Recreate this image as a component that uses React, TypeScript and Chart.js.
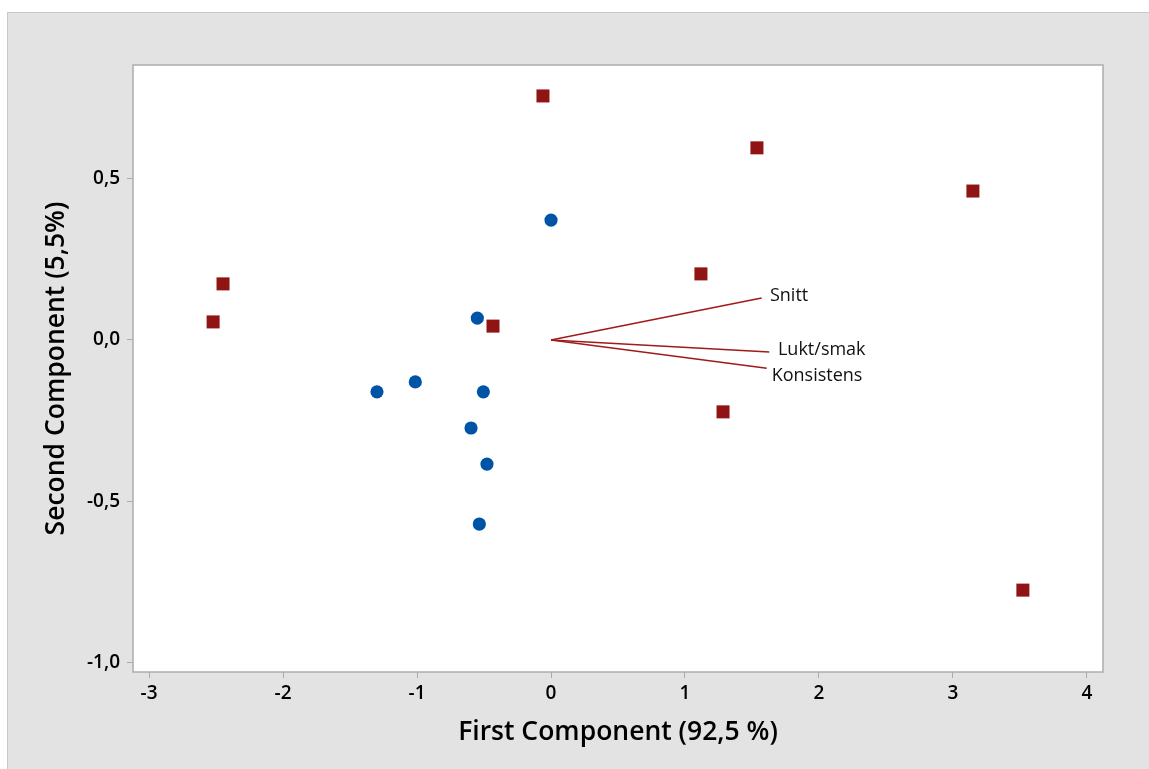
import React, { useEffect, useRef } from "react";
import { Chart, registerables } from "chart.js";

Chart.register(...registerables);

// Score plot: group with squares (red)
const redX = [-0.06, 1.537, 3.149, -2.448, -2.522, -0.433, 1.119, 1.284, 3.522];
const redY = [0.757, 0.596, 0.462, 0.174, 0.056, 0.043, 0.205, -0.223, -0.776];

// Score plot: group with circles (blue)
const blueX = [0.0, -0.55, -1.013, -1.299, -0.505, -0.597, -0.478, -0.535];
const blueY = [0.372, 0.068, -0.13, -0.161, -0.161, -0.273, -0.385, -0.571];

// Loading vectors (from origin)
const loadingNames = ["Snitt", "Lukt/smak", "Konsistens"];
const loadingX = [1.572, 1.629, 1.61];
const loadingY = [0.13, -0.037, -0.088];
const loadingLabelX = [1.634, 1.694, 1.647];
const loadingLabelY = [0.1375, -0.031, -0.112];

// Axes
const xTicks = [-3, -2, -1, 0, 1, 2, 3, 4];
const xTickLabels = ["-3", "-2", "-1", "0", "1", "2", "3", "4"];
const yTicks = [-1, -0.5, 0, 0.5];
const yTickLabels = ["-1,0", "-0,5", "0,0", "0,5"];
const xRange = [-3.12, 4.12];
const yRange = [-1.03, 0.853];
const xTitle = "First Component (92,5 %)";
const yTitle = "Second Component (5,5%)";

const FONT = "'Open Sans', 'Noto Sans', sans-serif";
const RED = "#901414";
const BLUE = "#0054a6";
const LINE_RED = "#a01a1a";

export default function App() {
  const ref = useRef<HTMLCanvasElement | null>(null);

  useEffect(() => {
    const canvas = ref.current;
    if (!canvas) return;

    const plotBg = {
      id: "plotBg",
      beforeDraw(chart: any) {
        const { ctx, chartArea: a } = chart;
        ctx.save();
        ctx.fillStyle = "#ffffff";
        ctx.fillRect(a.left, a.top, a.right - a.left, a.bottom - a.top);
        ctx.restore();
      },
      afterDraw(chart: any) {
        const { ctx, chartArea: a } = chart;
        ctx.save();
        ctx.strokeStyle = "#adadad";
        ctx.lineWidth = 1.5;
        ctx.strokeRect(a.left, a.top, a.right - a.left, a.bottom - a.top);
        ctx.restore();
      },
    };

    const loadingLabels = {
      id: "loadingLabels",
      afterDatasetsDraw(chart: any) {
        const { ctx } = chart;
        const xs = chart.scales.x;
        const ys = chart.scales.y;
        ctx.save();
        ctx.font = `400 18px ${FONT}`;
        ctx.fillStyle = "#111111";
        ctx.textAlign = "left";
        ctx.textBaseline = "middle";
        loadingNames.forEach((n, i) => {
          ctx.fillText(n, xs.getPixelForValue(loadingLabelX[i]), ys.getPixelForValue(loadingLabelY[i]));
        });
        ctx.restore();
      },
    };

    const lineSets = loadingNames.map((n, i) => ({
      label: n,
      data: [
        { x: 0, y: 0 },
        { x: loadingX[i], y: loadingY[i] },
      ],
      showLine: true,
      borderColor: LINE_RED,
      borderWidth: 1.5,
      pointRadius: 0,
      fill: false,
    }));

    const chart = new Chart(canvas, {
      type: "scatter",
      data: {
        datasets: [
          ...lineSets,
          {
            label: "Red",
            data: redX.map((x, i) => ({ x, y: redY[i] })),
            pointStyle: "rect",
            pointRadius: 9.2,
            pointBorderWidth: 0,
            borderWidth: 0,
            backgroundColor: RED,
            borderColor: RED,
          },
          {
            label: "Blue",
            data: blueX.map((x, i) => ({ x, y: blueY[i] })),
            pointStyle: "circle",
            pointRadius: 6.6,
            pointBorderWidth: 0,
            borderWidth: 0,
            backgroundColor: BLUE,
            borderColor: BLUE,
          },
        ] as any,
      },
      options: {
        animation: false,
        responsive: false,
        events: [],
        layout: { padding: { left: 0, top: 52, right: 46, bottom: 0 } },
        plugins: { legend: { display: false }, tooltip: { enabled: false } },
        scales: {
          x: {
            type: "linear",
            min: xRange[0],
            max: xRange[1],
            afterBuildTicks: (s: any) => {
              s.ticks = xTicks.map((v) => ({ value: v }));
            },
            afterFit: (s: any) => {
              s.height = 97;
            },
            ticks: {
              autoSkip: false,
              maxRotation: 0,
              padding: 4,
              color: "#000",
              font: { family: FONT, size: 19, weight: "600" },
              callback: (v: any) => {
                const i = xTicks.indexOf(Number(v));
                return i >= 0 ? xTickLabels[i] : "";
              },
            },
            grid: { display: true, drawOnChartArea: false, drawTicks: true, tickLength: 6, color: "#aaaaaa" },
            border: { display: false },
            title: {
              display: true,
              text: xTitle,
              color: "#000",
              font: { family: FONT, size: 26.5, weight: "600" },
              padding: { top: 0, bottom: 21 },
            },
          },
          y: {
            type: "linear",
            min: yRange[0],
            max: yRange[1],
            afterBuildTicks: (s: any) => {
              s.ticks = yTicks.map((v) => ({ value: v }));
            },
            afterFit: (s: any) => {
              s.width = 125;
            },
            ticks: {
              autoSkip: false,
              padding: 7,
              color: "#000",
              font: { family: FONT, size: 19, weight: "600" },
              callback: (v: any) => {
                const i = yTicks.indexOf(Number(v));
                return i >= 0 ? yTickLabels[i] : "";
              },
            },
            grid: { display: true, drawOnChartArea: false, drawTicks: true, tickLength: 6, color: "#aaaaaa" },
            border: { display: false },
            title: {
              display: true,
              text: yTitle,
              color: "#000",
              font: { family: FONT, size: 26.5, weight: "600" },
              padding: { top: 33, bottom: 0 },
            },
          },
        },
      },
      plugins: [plotBg, loadingLabels],
    } as any);

    return () => chart.destroy();
  }, []);

  return (
    <div
      style={{
        position: "absolute",
        left: 0,
        top: 0,
        width: 1149,
        height: 769,
        background: "#ffffff",
        overflow: "hidden",
      }}
    >
      <div
        style={{
          position: "absolute",
          left: 7,
          top: 12,
          width: 1142,
          height: 757,
          boxSizing: "border-box",
          background: "#e3e3e3",
          borderLeft: "1px solid #c8c8c8",
          borderTop: "1px solid #c8c8c8",
        }}
      />
      <canvas
        ref={ref}
        width={1141}
        height={756}
        style={{ position: "absolute", left: 8, top: 13, width: 1141, height: 756 }}
      />
    </div>
  );
}
